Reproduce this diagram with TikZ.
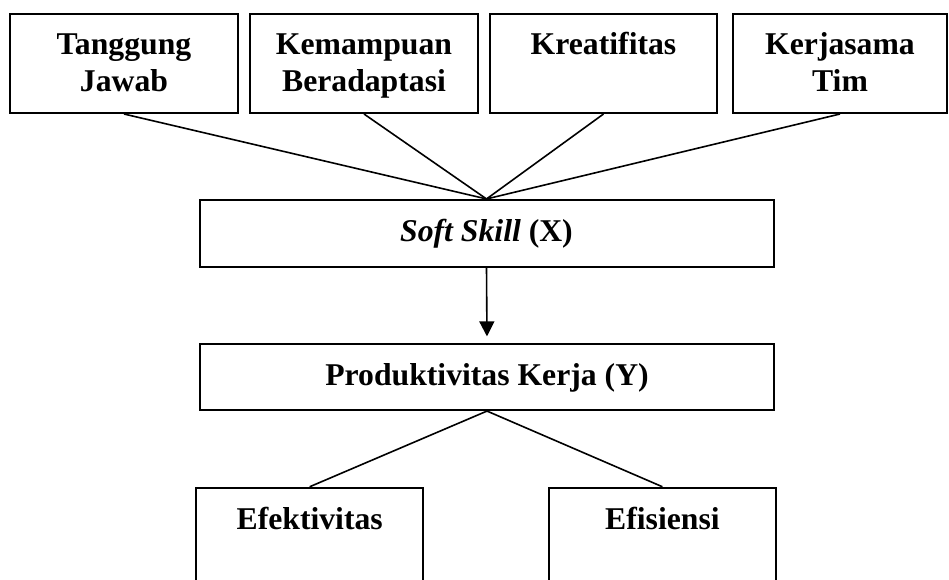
\documentclass[tikz,border=0pt]{standalone}
\usepackage{fontspec}
\setmainfont{Liberation Serif}
\usetikzlibrary{arrows.meta}
\begin{document}
\begin{tikzpicture}[x=1pt,y=-1pt,
  box/.style={draw, line width=2pt, rectangle, inner sep=0pt},
  lbl/.style={font=\fontsize{31.7}{36.6}\selectfont\bfseries, align=center, anchor=base, inner sep=0pt},
  conn/.style={line width=1.6pt}]
\useasboundingbox (0,0) rectangle (949,579);
\clip (0,0) rectangle (949,579);
% top boxes
\node[box, minimum width=228pt, minimum height=99pt] (b1) at (124,63.5) {};
\node[box, minimum width=228pt, minimum height=99pt] (b2) at (364,63.5) {};
\node[box, minimum width=227pt, minimum height=99pt] (b3) at (603.5,63.5) {};
\node[box, minimum width=214pt, minimum height=99pt] (b4) at (840,63.5) {};
\node[lbl] (t1) at (124,91.3) {Tanggung\\Jawab};
\node[lbl] (t2) at (364,91.3) {Kemampuan\\Beradaptasi};
\node[lbl] (t3) at (603.5,54.7) {Kreatifitas};
\node[lbl] (t4) at (840,91.3) {Kerjasama\\Tim};
% middle boxes
\node[box, minimum width=574pt, minimum height=66.7pt] (soft) at (486.5,233.3) {};
\node[lbl] (ts) at (486.5,241.7) {\textit{Soft Skill} (X)};
\node[box, minimum width=574pt, minimum height=65.7pt] (prod) at (487,377.2) {};
\node[lbl] (tp) at (487,385) {Produktivitas Kerja (Y)};
% bottom boxes
\node[box, minimum width=227.3pt, minimum height=132.3pt] (ef) at (309.7,553.9) {};
\node[lbl] (te) at (309.7,529.3) {Efektivitas};
\node[box, minimum width=226.7pt, minimum height=132.3pt] (es) at (662.4,553.9) {};
\node[lbl] (tf) at (662.4,529.3) {Efisiensi};
% connectors
\foreach \b in {b1,b2,b3,b4} \draw[conn] (\b.south) -- (soft.north);
\draw[conn, shorten >=7pt, -{Triangle[width=15pt,length=15pt]}] (soft.south) -- (prod.north);
\draw[conn] (prod.south) -- (ef.north);
\draw[conn] (prod.south) -- (es.north);
\end{tikzpicture}
\end{document}
